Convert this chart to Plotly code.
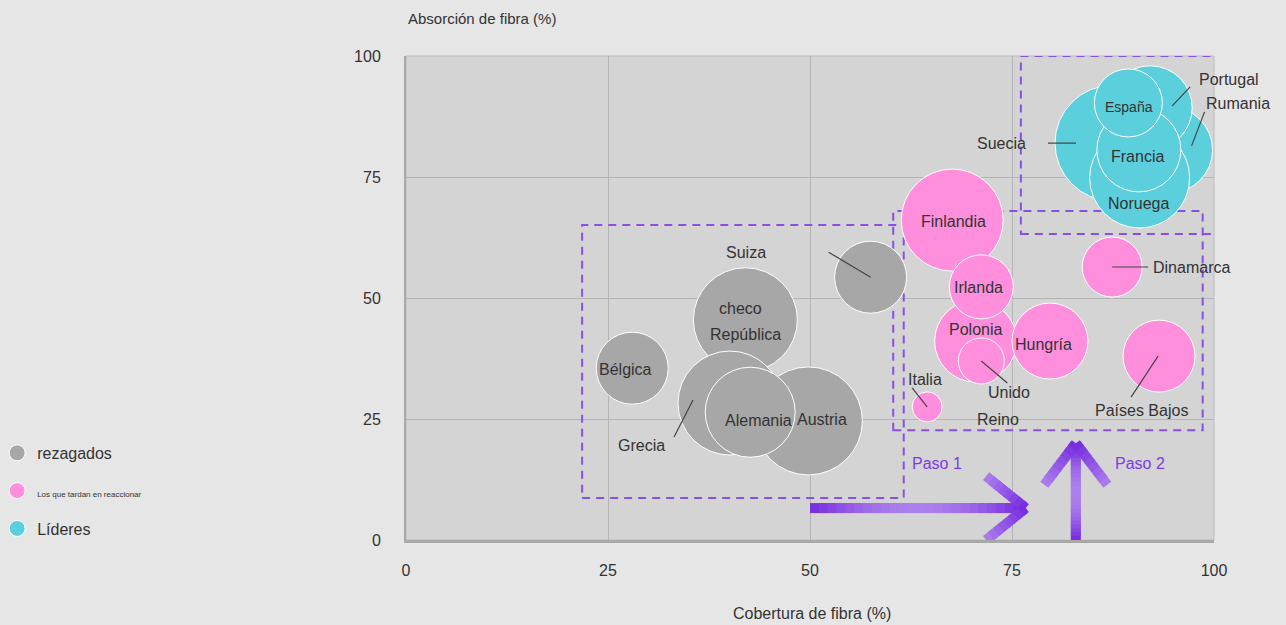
import math
import plotly.graph_objects as go

# ---------------- data ----------------
rez_names = ["Bélgica", "República Checa", "Austria", "Grecia", "Alemania", "Suiza"]
rez_x = [28.0, 42.0, 49.8, 40.1, 42.6, 57.5]
rez_y = [35.5, 45.5, 24.6, 28.3, 26.4, 54.3]
rez_size = [36, 52, 54, 52, 45, 36]

tar_names = ["Finlandia", "Polonia", "Irlanda", "Reino Unido", "Hungría", "Dinamarca", "Países Bajos", "Italia"]
tar_x = [67.6, 70.5, 71.2, 71.2, 79.7, 87.4, 93.2, 64.5]
tar_y = [66.1, 41.1, 52.3, 37.0, 41.1, 56.4, 38.0, 27.5]
tar_size = [51, 41, 32, 23, 38, 30, 36, 15]

lid_names = ["Suecia", "Rumania", "Portugal", "Noruega", "Francia", "España"]
lid_x = [87.5, 94.5, 92.1, 90.8, 90.7, 89.4]
lid_y = [82.0, 80.6, 89.3, 74.8, 80.6, 90.3]
lid_size = [58, 43, 42, 50, 42, 34]

group_names = ["rezagados", "Los que tardan en reaccionar", "Líderes"]
x_ticks = [0, 25, 50, 75, 100]
y_ticks = [0, 25, 50, 75, 100]

# ---------------- styles ----------------
PAGE_BG = "#e6e6e6"
PLOT_BG = "#d4d4d4"
GRID = "#b4b4b4"
TEXT = "#333333"
PURPLE = "#8a4fe6"
PURPLE_TXT = "#7d3be6"
FONT = "Liberation Sans, Arial, sans-serif"
colors = ["#a7a7a7", "#ff8fdd", "#5bd0dc"]

labels = {
    "Bélgica": [("Bélgica", -7, -1, 16)],
    "República Checa": [("checo", -5, 11, 16), ("República", 0, -15, 16)],
    "Alemania": [("Alemania", 8, -8, 16)],
    "Austria": [("Austria", 14, 1, 16)],
    "Grecia": [("Grecia", -89, -42, 16)],
    "Suiza": [("Suiza", -125, 25, 16)],
    "Finlandia": [("Finlandia", 1, -1, 16)],
    "Irlanda": [("Irlanda", -3, -1, 16)],
    "Polonia": [("Polonia", 0, 12, 16)],
    "Reino Unido": [("Unido", 28, -32, 16), ("Reino", 17, -59, 16)],
    "Hungría": [("Hungría", -6, -3, 16)],
    "Dinamarca": [("Dinamarca", 79, 0, 16)],
    "Países Bajos": [("Países Bajos", -18, -54, 16)],
    "Italia": [("Italia", -2, 27, 16)],
    "Suecia": [("Suecia", -112, 0, 16)],
    "Portugal": [("Portugal", 79, 28, 16)],
    "Rumania": [("Rumania", 68, 46, 16)],
    "Noruega": [("Noruega", -1, -26, 16)],
    "Francia": [("Francia", -1, -7, 16)],
    "España": [("España", 1, -4, 14)],
}
leaders = {
    "Grecia": (-56, -34, -37, 3),
    "Suiza": (-42, 25, 0, 0),
    "Reino Unido": (0, 0, 26, -22),
    "Dinamarca": (36, 0, 0, 0),
    "Países Bajos": (-28, -41, -1, 0),
    "Italia": (-15, 19, 0, 0),
    "Suecia": (-65, 0, -37, 0),
    "Portugal": (40, 21, 22, 2),
    "Rumania": (35, 38, 22, 4),
}

fig = go.Figure()

groups = [
    (group_names[0], rez_names, rez_x, rez_y, rez_size, colors[0], "rezagados"),
    (group_names[1], tar_names, tar_x, tar_y, tar_size, colors[1],
     '<span style="font-size:8px">Los que tardan en reaccionar</span>'),
    (group_names[2], lid_names, lid_x, lid_y, lid_size, colors[2], "Líderes"),
]

annotations = []
shapes = []

for gname, names, xs, ys, ss, col, legname in groups:
    fig.add_trace(go.Scatter(
        x=xs, y=ys, mode="markers", name=legname, text=names,
        hovertemplate="%{text}<br>Cobertura: %{x}%<br>Absorción: %{y}%<extra></extra>",
        legendgroup=gname,
        marker=dict(size=ss, sizemode="diameter", sizeref=0.5, color=col, opacity=1,
                    line=dict(color="white", width=1)),
    ))
    for n, x, y in zip(names, xs, ys):
        for txt, dx, dy, fs in labels.get(n, []):
            annotations.append(dict(x=x, y=y, xref="x", yref="y", text=txt, showarrow=False,
                                    xshift=dx, yshift=dy, font=dict(size=fs, color=TEXT, family=FONT)))
        if n in leaders:
            x0, y0, x1, y1 = leaders[n]
            shapes.append(dict(type="line", xref="x", yref="y", xsizemode="pixel", ysizemode="pixel",
                               xanchor=x, yanchor=y, x0=x0, x1=x1, y0=y0, y1=y1,
                               line=dict(color="#444444", width=1.2), layer="above"))

# dashed group boxes
for (x0, x1, y0, y1) in [(21.8, 61.6, 8.7, 65.1), (60.3, 98.6, 22.7, 68.0), (76.1, 100.2, 63.2, 100.0)]:
    shapes.append(dict(type="rect", xref="x", yref="y", x0=x0, x1=x1, y0=y0, y1=y1,
                       line=dict(color=PURPLE, width=2, dash="8px,6px"), layer="between"))

# plot border (top/right thin)
shapes.append(dict(type="rect", xref="paper", yref="paper", x0=0, x1=1, y0=0, y1=1,
                   line=dict(color="#bcbcbc", width=1), layer="below"))

# gradient step arrows
DARK = (118, 42, 224)
LIGHT = (172, 128, 236)


def mix(t):
    c = [int(round(d + (l - d) * t)) for d, l in zip(DARK, LIGHT)]
    return "rgb(%d,%d,%d)" % tuple(c)


def grad_segment(p0, p1, profile, n=24, width=10):
    out = []
    for i in range(n):
        a, b = i / n, min(1.0, (i + 1.8) / n)  # overlap segments to hide seams
        t = profile((i + 0.5) / n)
        out.append(dict(type="line", xref="x", yref="y",
                        x0=p0[0] + (p1[0] - p0[0]) * a, y0=p0[1] + (p1[1] - p0[1]) * a,
                        x1=p0[0] + (p1[0] - p0[0]) * b, y1=p0[1] + (p1[1] - p0[1]) * b,
                        line=dict(color=mix(t), width=width), layer="above"))
    return out


bump = lambda s: math.sin(math.pi * s)
fade = lambda s: 1 - s  # light at start, dark at end

shapes += grad_segment((50.0, 6.6), (76.3, 6.6), bump)
shapes += grad_segment((71.8, 13.2), (76.7, 6.6), fade, n=8)
shapes += grad_segment((71.8, 0.0), (76.7, 6.6), fade, n=8)
shapes += grad_segment((82.9, 0.0), (82.9, 19.4), bump)
shapes += grad_segment((79.0, 11.4), (82.9, 20.0), fade, n=8)
shapes += grad_segment((86.8, 11.4), (82.9, 20.0), fade, n=8)

annotations += [
    dict(x=65.7, y=15.9, xref="x", yref="y", text="Paso 1", showarrow=False, font=dict(size=16, color=PURPLE_TXT, family=FONT)),
    dict(x=90.8, y=15.9, xref="x", yref="y", text="Paso 2", showarrow=False, font=dict(size=16, color=PURPLE_TXT, family=FONT)),
    dict(x=0, y=1, xref="paper", yref="paper", text="Absorción de fibra (%)", showarrow=False,
         xanchor="left", yanchor="middle", yshift=38, font=dict(size=15, color=TEXT, family=FONT)),
    dict(x=0.5, y=0, xref="paper", yref="paper", text="Cobertura de fibra (%)", showarrow=False,
         xanchor="center", yanchor="middle", yshift=-73, xshift=2, font=dict(size=16, color=TEXT, family=FONT)),
]

fig.update_layout(
    width=1286, height=625,
    margin=dict(l=406, r=72, t=56, b=85, autoexpand=False),
    paper_bgcolor=PAGE_BG, plot_bgcolor=PLOT_BG,
    font=dict(family=FONT, color=TEXT, size=16),
    showlegend=True,
    legend=dict(x=-0.506, y=0.215, xanchor="left", yanchor="top", itemsizing="trace",
                tracegroupgap=14, bgcolor="rgba(0,0,0,0)", font=dict(size=16, color=TEXT, family=FONT)),
    shapes=shapes, annotations=annotations,
    xaxis=dict(range=[0, 100], tickvals=x_ticks, ticktext=[str(v) for v in x_ticks],
               showgrid=True, gridcolor=GRID, gridwidth=1, zeroline=False,
               showline=True, linecolor="#a9a9a9", linewidth=3, ticks="",
               ticklabelstandoff=14, tickfont=dict(size=16, color=TEXT)),
    yaxis=dict(range=[0, 100], tickvals=y_ticks, ticktext=[str(v) for v in y_ticks],
               showgrid=True, gridcolor=GRID, gridwidth=1, zeroline=False,
               showline=True, linecolor="#a9a9a9", linewidth=2, ticks="",
               ticklabelstandoff=20, tickfont=dict(size=16, color=TEXT)),
)

fig.write_html("out.html")
